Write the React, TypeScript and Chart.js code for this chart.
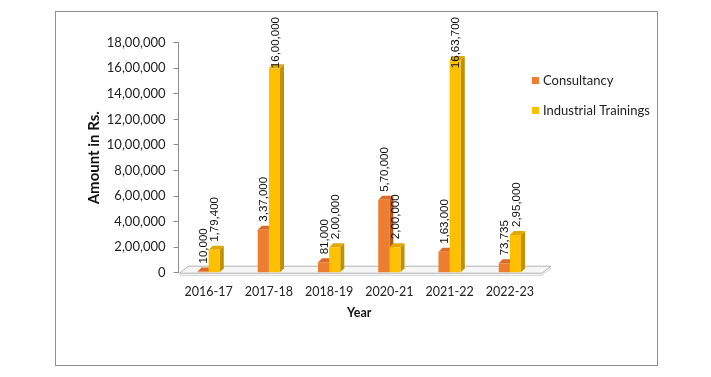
import React, { useEffect, useRef } from "react";
import { Chart, registerables } from "chart.js";

Chart.register(...registerables);

const categories = ["2016-17", "2017-18", "2018-19", "2020-21", "2021-22", "2022-23"];
const consultancy = [10000, 337000, 81000, 570000, 163000, 73735];
const industrialTrainings = [179400, 1600000, 200000, 200000, 1663700, 295000];
const seriesNames = ["Consultancy", "Industrial Trainings"];
const yMax = 1800000;
const yStep = 200000;

const FRONT = ["#ED7D31", "#FFC000"];
const SIDE = ["#B5581E", "#BF9000"];
const TOP = ["#D96C2B", "#E0A800"];
const DX = 4;
const DY = 4;

function inr(n: number): string {
  const s = Math.round(n).toString();
  if (s.length <= 3) return s;
  const last3 = s.slice(-3);
  const rest = s.slice(0, -3).replace(/\B(?=(\d{2})+(?!\d))/g, ",");
  return rest + "," + last3;
}

const frame = {
  id: "frame",
  beforeDraw(chart: any) {
    const { ctx } = chart;
    ctx.save();
    ctx.fillStyle = "#ffffff";
    ctx.fillRect(0, 0, chart.width, chart.height);
    ctx.strokeStyle = "#8f8f8f";
    ctx.lineWidth = 1;
    ctx.strokeRect(55.5, 11.5, 602, 354);
    ctx.restore();
  },
};

const threeD = {
  id: "threeD",
  beforeDatasetsDraw(chart: any) {
    const { ctx, chartArea } = chart;
    const { left, right, bottom } = chartArea;
    ctx.save();
    // floor
    ctx.beginPath();
    ctx.moveTo(left + 1, bottom + 0.5);
    ctx.lineTo(right + 2, bottom + 0.5);
    ctx.lineTo(right + 11, bottom - 6.5);
    ctx.lineTo(left + 10, bottom - 6.5);
    ctx.closePath();
    ctx.fillStyle = "#f6f6f6";
    ctx.fill();
    ctx.strokeStyle = "#b3b3b3";
    ctx.lineWidth = 1;
    ctx.stroke();
    ctx.beginPath();
    ctx.moveTo(left + 1, bottom + 2.5);
    ctx.lineTo(right + 2, bottom + 2.5);
    ctx.lineTo(right + 11, bottom - 4.5);
    ctx.strokeStyle = "#d0d0d0";
    ctx.stroke();
    // bar sides and tops
    chart.data.datasets.forEach((ds: any, di: number) => {
      const meta = chart.getDatasetMeta(di);
      meta.data.forEach((bar: any) => {
        const { x, y, base, width } = bar.getProps(["x", "y", "base", "width"], true);
        const x0 = x - width / 2;
        const x1 = x + width / 2;
        ctx.beginPath();
        ctx.moveTo(x1, y);
        ctx.lineTo(x1 + DX, y - DY);
        ctx.lineTo(x1 + DX, base - DY);
        ctx.lineTo(x1, base);
        ctx.closePath();
        ctx.fillStyle = SIDE[di];
        ctx.fill();
        ctx.beginPath();
        ctx.moveTo(x0, y);
        ctx.lineTo(x1, y);
        ctx.lineTo(x1 + DX, y - DY);
        ctx.lineTo(x0 + DX, y - DY);
        ctx.closePath();
        ctx.fillStyle = TOP[di];
        ctx.fill();
      });
    });
    ctx.restore();
  },
  afterDatasetsDraw(chart: any) {
    const { ctx } = chart;
    ctx.save();
    ctx.font = "11.5px 'Liberation Sans', Arial, sans-serif";
    ctx.fillStyle = "#111";
    ctx.textAlign = "left";
    ctx.textBaseline = "middle";
    chart.data.datasets.forEach((ds: any, di: number) => {
      const meta = chart.getDatasetMeta(di);
      meta.data.forEach((bar: any, i: number) => {
        const { x, y } = bar.getProps(["x", "y"], true);
        const txt = inr(ds.data[i]);
        const w = ctx.measureText(txt).width;
        let start = y - 8;
        if (start - w < 17) start = 17 + w;
        ctx.save();
        ctx.translate(x + 1, start);
        ctx.rotate(-Math.PI / 2);
        ctx.fillText(txt, 0, 0);
        ctx.restore();
      });
    });
    ctx.restore();
  },
  afterDraw(chart: any) {
    const { ctx } = chart;
    ctx.save();
    ctx.font = "13px Lato, sans-serif";
    ctx.textAlign = "left";
    ctx.textBaseline = "middle";
    chart.data.datasets.forEach((ds: any, di: number) => {
      const cy = 80.5 + di * 30;
      ctx.fillStyle = FRONT[di];
      ctx.fillRect(532, cy - 3.5, 7, 7);
      ctx.fillStyle = "#222";
      ctx.fillText(ds.label, 543, cy);
    });
    ctx.restore();
  },
};

export default function App() {
  const ref = useRef<HTMLCanvasElement | null>(null);
  useEffect(() => {
    if (!ref.current) return;
    const chart = new Chart(ref.current, {
      type: "bar",
      data: {
        labels: categories,
        datasets: [
          { label: seriesNames[0], data: consultancy, backgroundColor: FRONT[0], borderWidth: 0 },
          { label: seriesNames[1], data: industrialTrainings, backgroundColor: FRONT[1], borderWidth: 0 },
        ],
      },
      options: {
        responsive: false,
        animation: false,
        devicePixelRatio: 1,
        layout: { padding: { left: 82.6, right: 171, top: 42.7, bottom: 56.8 } },
        plugins: { legend: { display: false }, tooltip: { enabled: false } },
        datasets: { bar: { categoryPercentage: 0.37, barPercentage: 1 } },
        scales: {
          x: {
            grid: { display: false, drawTicks: false },
            border: { display: false },
            ticks: { padding: 12, color: "#222", font: { family: "Lato", size: 12.5 } },
            title: {
              display: true,
              text: "Year",
              color: "#111",
              font: { family: "Lato", size: 12.5, weight: "bold" },
              padding: { top: 4, bottom: 0 },
            },
            afterFit: (s: any) => {
              s.height = 47.5;
            },
          },
          y: {
            min: 0,
            max: yMax,
            ticks: {
              stepSize: yStep,
              padding: 8,
              color: "#222",
              font: { family: "Lato", size: 13 },
              callback: (v: any) => inr(Number(v)),
            },
            grid: { display: true, drawOnChartArea: false, drawTicks: true, tickLength: 5, color: "#8c8c8c" },
            border: { display: true, color: "#8c8c8c" },
            title: {
              display: true,
              text: "Amount in Rs.",
              color: "#111",
              font: { family: "Lato", size: 15, weight: "bold" },
              padding: { top: 3, bottom: 4 },
            },
            afterFit: (s: any) => {
              s.width = 95.9;
            },
          },
        },
      },
      plugins: [frame, threeD],
    } as any);
    return () => chart.destroy();
  }, []);
  return (
    <div style={{ position: "fixed", left: 0, top: 0, width: 711, height: 377 }}>
      <canvas ref={ref} width={711} height={377} style={{ width: 711, height: 377, display: "block" }} />
    </div>
  );
}
